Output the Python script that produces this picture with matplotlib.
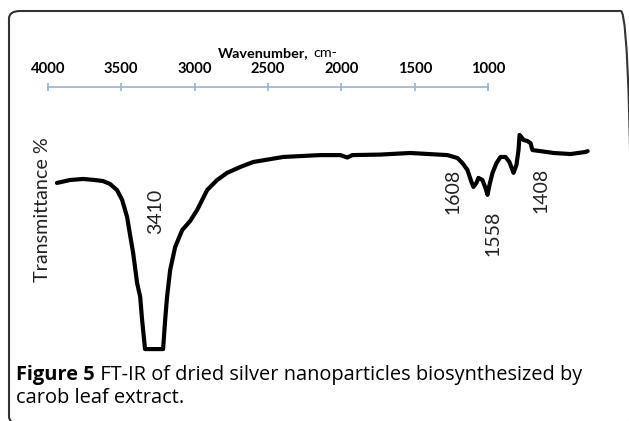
import matplotlib
matplotlib.use("Agg")
import matplotlib.pyplot as plt
from matplotlib.patches import FancyBboxPatch

# ---- data ----
wavenumber = [3937, 3848, 3759, 3678, 3623, 3575, 3528, 3493, 3459, 3439, 3418,
              3391, 3370, 3357, 3337, 3214, 3200, 3187, 3166, 3132, 3084, 3030,
              2982, 2914, 2846, 2778, 2689, 2600, 2396, 2144, 2007, 1959, 1925,
              1734, 1530, 1277, 1209, 1175, 1141, 1114, 1100, 1080, 1066, 1039,
              1018, 1004, 991, 970, 943, 916, 882, 855, 827, 807, 793, 786, 773,
              759, 732, 711, 698, 643, 554, 438, 336, 322]
transmittance = [63.8, 64.9, 65.3, 64.9, 64.5, 63.4, 61.1, 57.4, 50.9, 44.2, 37.4,
                 26.0, 20.8, 12.1, 1.1, 1.1, 12.1, 20.8, 30.9, 39.6, 46.0, 49.4,
                 53.6, 61.1, 64.9, 67.6, 69.8, 71.7, 73.6, 74.3, 74.3, 73.4, 74.3,
                 74.5, 75.1, 74.3, 73.2, 71.3, 68.7, 64.2, 62.3, 63.8, 65.7, 64.9,
                 61.9, 59.3, 63.0, 67.6, 71.3, 73.6, 73.6, 71.7, 67.6, 70.6, 76.2,
                 81.9, 81.1, 80.0, 79.6, 78.8, 76.2, 75.8, 75.1, 74.7, 75.5, 75.8]
x_ticks = [4000, 3500, 3000, 2500, 2000, 1500, 1000]
peak_labels = ["3410", "1608", "1558", "1408"]
peak_label_x = [3268, 1237, 964, 643]
peak_label_y = [53.2, 60.8, 44.9, 61.1]

W, H = 629, 421
fig = plt.figure(figsize=(W / 100, H / 100), dpi=100)

# rounded frame
fx0, fy0, fx1, fy1 = 9, 11, 632, 424   # pixel box (top-left origin)
frame = FancyBboxPatch((fx0 / W, 1 - fy1 / H), (fx1 - fx0) / W, (fy1 - fy0) / H,
                       boxstyle="round,pad=0,rounding_size=0.018",
                       transform=fig.transFigure, fill=False,
                       edgecolor="#333333", linewidth=1.5, clip_on=False)
fig.patches.append(frame)

left, right, top, bottom = 47.7, 590.9, 87, 352
ax = fig.add_axes([left / W, 1 - bottom / H, (right - left) / W, (bottom - top) / H])
ax.set_xlim(4000, 300)
ax.set_ylim(0, 100)
ax.plot(wavenumber, transmittance, color="black", lw=3.0,
        solid_joinstyle="round", solid_capstyle="round", clip_on=False)

for s in ["left", "right", "bottom"]:
    ax.spines[s].set_visible(False)
ax.spines["top"].set_bounds(1000, 4000)
ax.spines["top"].set_color("#95b3d7")
ax.spines["top"].set_linewidth(1.2)
ax.set_yticks([])
ax.xaxis.tick_top()
ax.set_xticks(x_ticks)
ax.set_xticklabels([str(t) for t in x_ticks], fontfamily="Lato",
                   fontweight="bold", fontsize=10.6)
ax.tick_params(axis="x", direction="inout", length=6, width=1.2,
               color="#95b3d7", pad=5)

for lab, lx, ly in zip(peak_labels, peak_label_x, peak_label_y):
    ax.text(lx, ly, lab, rotation=90, ha="center", va="center",
            fontfamily="Lato", fontsize=14, color="#222222")

# axis titles
fig.text(309 / W, 1 - 53 / H, "Wavenumber,", ha="right", va="center",
         fontfamily="Lato", fontweight="bold", fontsize=10.4)
fig.text(313 / W, 1 - 53 / H, "cm-", ha="left", va="center",
         fontfamily="Lato", fontsize=10.4)
fig.text(43 / W, 1 - 210 / H, "Transmittance %", rotation=90, ha="center",
         va="center", fontfamily="Lato", fontsize=14.2, color="#222222")

# caption
t1 = fig.text(16 / W, 1 - 375 / H, "Figure 5", ha="left", va="center",
              fontfamily="Open Sans", fontweight="bold", fontsize=14.4)
plt.annotate(" FT-IR of dried silver nanoparticles biosynthesized by",
             xy=(1, 0.5), xycoords=t1, ha="left", va="center",
             fontfamily="Open Sans", fontsize=14.4)
fig.text(16 / W, 1 - 398 / H, "carob leaf extract.", ha="left", va="center",
         fontfamily="Open Sans", fontsize=14.4)

fig.savefig("out.png", dpi=100)
